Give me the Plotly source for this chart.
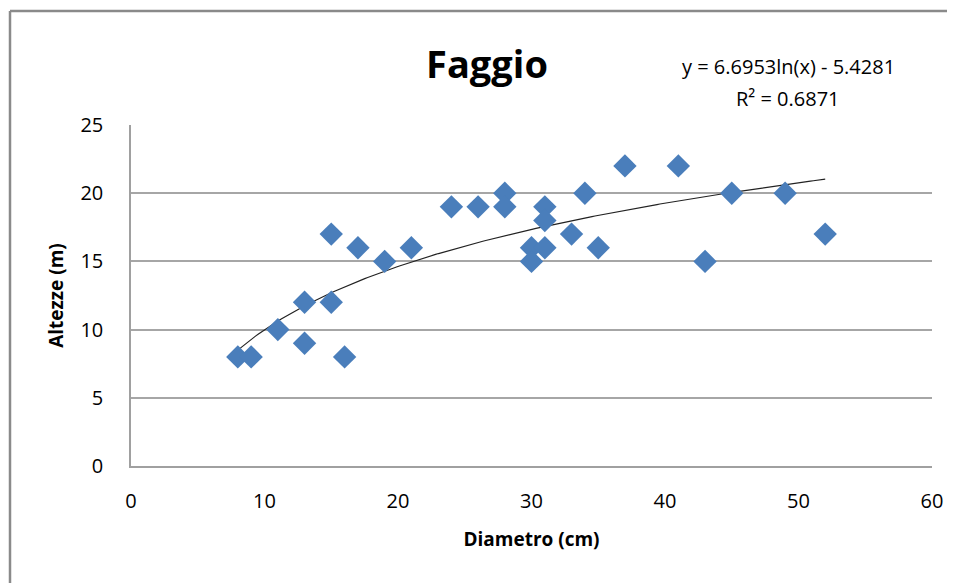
import numpy as np
import plotly.graph_objects as go

diametro = [8, 9, 11, 13, 13, 15, 15, 16, 17, 19, 21, 24, 26, 28, 28, 30, 30, 31, 31, 31, 33, 34, 35, 37, 41, 43, 45, 49, 52]
altezze = [8, 8, 10, 12, 9, 17, 12, 8, 16, 15, 16, 19, 19, 20, 19, 16, 15, 19, 18, 16, 17, 20, 16, 22, 22, 15, 20, 20, 17]

coef_a = 6.6953
coef_b = -5.4281
r2 = 0.6871

x_ticks = [0, 10, 20, 30, 40, 50, 60]
y_ticks = [0, 5, 10, 15, 20, 25]

xt = np.linspace(min(diametro), max(diametro), 200)
yt = coef_a * np.log(xt) + coef_b

font = "Open Sans"

# page body has an 8px offset; plot area wanted at screen x 131..932, y 125..466
OFF = 8
PL, PR, PT, PB = 131, 932, 125, 466
W, H = 955, 583
pw, ph = PR - PL, PB - PT

bx0 = (10 - PL) / pw
bx1 = (1000 - PL) / pw
by0 = -(700 - PB) / ph
by1 = 1 + (PT - 11) / ph

fig = go.Figure()
fig.add_trace(go.Scatter(x=xt, y=yt, mode="lines",
                         line=dict(color="#222222", width=1.2), hoverinfo="skip"))
fig.add_trace(go.Scatter(x=diametro, y=altezze, mode="markers",
                         marker=dict(symbol="diamond", size=18, color="#4A7EBB",
                                     line=dict(width=0))))

border = dict(color="#8A8A8A", width=2.5)
fig.update_layout(
    width=W, height=H,
    margin=dict(l=PL - OFF, r=W + OFF - PR, t=PT - OFF, b=H + OFF - PB),
    paper_bgcolor="white", plot_bgcolor="white",
    showlegend=False,
    font=dict(family=font, size=20, color="#000000"),
    title=dict(text="<b>Faggio</b>", x=(487 - OFF) / W, xanchor="center",
               y=1 - (65 - OFF) / H, yanchor="middle",
               font=dict(family=font, size=38, color="#000000")),
    shapes=[
        dict(type="line", xref="paper", yref="paper", x0=bx0, x1=bx1, y0=by1, y1=by1,
             line=border, layer="below"),
        dict(type="line", xref="paper", yref="paper", x0=bx0, x1=bx0, y0=by0, y1=by1,
             line=border, layer="below"),
    ],
    annotations=[
        dict(text=f"y = {coef_a}ln(x) - {-coef_b}",
             xref="paper", yref="paper", x=(788 - PL) / pw, y=1 + (PT - 67) / ph,
             xanchor="center", yanchor="middle", showarrow=False,
             font=dict(family=font, size=20, color="#000000")),
        dict(text=f"R² = {r2}",
             xref="paper", yref="paper", x=(788 - PL) / pw, y=1 + (PT - 98) / ph,
             xanchor="center", yanchor="middle", showarrow=False,
             font=dict(family=font, size=20, color="#000000")),
    ],
)
fig.update_xaxes(range=[0, 60], tickvals=x_ticks, showgrid=False,
                 showline=True, linecolor="#A0A0A0", linewidth=1.5,
                 ticks="", zeroline=False, ticklabelstandoff=16,
                 tickfont=dict(family=font, size=20),
                 title=dict(text="<b>Diametro (cm)</b>", standoff=20,
                            font=dict(family=font, size=19)))
fig.update_yaxes(range=[0, 25], tickvals=y_ticks, showgrid=True,
                 gridcolor="#A6A6A6", gridwidth=1.5,
                 showline=True, linecolor="#A0A0A0", linewidth=1.5,
                 ticks="", zeroline=False, ticklabelstandoff=22,
                 tickfont=dict(family=font, size=20),
                 title=dict(text="<b>Altezze (m)</b>", standoff=12,
                            font=dict(family=font, size=19)))

fig.write_html("out.html")
